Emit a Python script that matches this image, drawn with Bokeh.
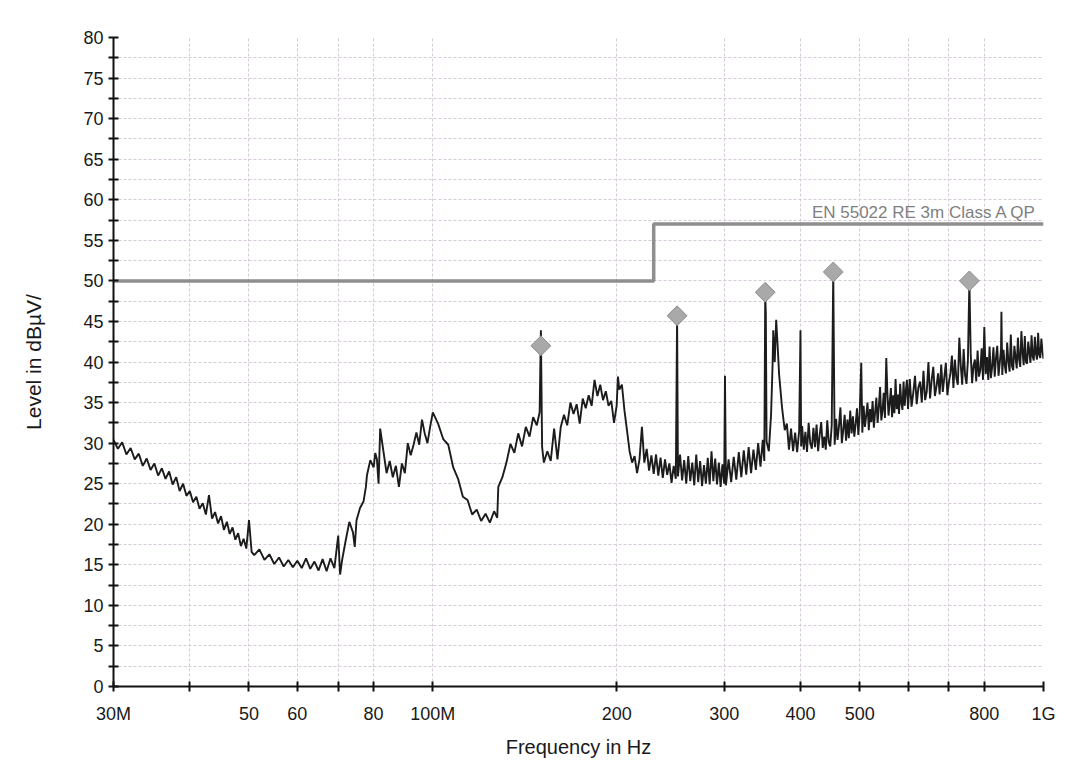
import numpy as np
from bokeh.plotting import figure
from bokeh.models import Range1d, FixedTicker, Label
from bokeh.embed import file_html
from bokeh.resources import INLINE

# ---------------- data ----------------
x_ticks = [30, 40, 50, 60, 70, 80, 100, 200, 300, 400, 500, 600, 700, 800, 1000]
x_tick_labels = ["30M", "", "50", "60", "", "80", "100M", "200", "300", "400", "500", "", "", "800", "1G"]
y_ticks = [0, 5, 10, 15, 20, 25, 30, 35, 40, 45, 50, 55, 60, 65, 70, 75, 80]
y_minor_ticks = [2.5, 7.5, 12.5, 17.5, 22.5, 27.5, 32.5, 37.5, 42.5, 47.5, 52.5, 57.5, 62.5, 67.5, 72.5, 77.5]

limit_freq = [30, 230, 230, 1000]
limit_level = [50, 50, 57, 57]
limit_name = "EN 55022 RE 3m Class A QP"

marker_freq = [150.3, 251.2, 350.2, 452.6, 756.2]
marker_level = [42.0, 45.7, 48.6, 51.1, 50.0]

trace_freq = [
    # 30-50 MHz
    30.0, 30.5, 31.0, 31.5, 32.0, 32.5, 33.0, 33.5, 34.0, 34.5, 35.0, 35.5, 36.0, 36.5, 37.0, 37.5,
    38.0, 38.5, 39.0, 39.5, 40.0, 40.5, 41.0, 41.5, 42.0, 42.5, 43.0, 43.5, 44.0, 44.5, 45.0, 45.5,
    46.0, 46.5, 47.0, 47.5, 48.0, 48.5, 49.0, 49.5, 50.0, 50.5,
    # 50-100 MHz
    51, 52, 53, 54, 55, 56, 57, 58, 59, 60, 61, 62, 63, 64, 65, 66, 67, 68, 69, 70, 70.5, 71, 72, 73,
    74, 74.5, 75, 76, 77, 77.7, 78, 79, 80, 80.5, 81, 81.5, 82, 83, 84, 85, 86, 87, 88, 89, 90, 91,
    92, 93, 94, 95, 96, 97, 98, 99, 100,
    # 100-200 MHz
    102, 104, 106, 108, 110, 112, 114, 116, 118, 120, 122, 124, 126, 127.5, 128, 130, 132, 134, 136,
    138, 140, 142, 144, 146, 148, 149.6, 150.3, 151, 152, 154, 156, 158, 160, 162, 164, 166, 168, 170,
    172, 174, 176, 178, 180, 182, 184, 186, 188, 190, 192, 194, 196, 198, 200, 201,
    # 200-300 MHz
    202, 204, 206, 208, 210, 212, 214, 216, 218, 220, 222, 224, 226, 228, 230, 232, 234, 236, 238, 240,
    242, 244, 246, 248, 250, 251.2, 252, 254, 256, 258, 260, 262, 264, 266, 268, 270, 272, 274, 276,
    278, 280, 282, 284, 286, 288, 290, 292, 294, 296, 298, 300, 300.9, 302,
    # 300-400 MHz
    305, 308, 311, 314, 317, 320, 323, 326, 329, 332, 335, 338, 341, 344, 347, 349, 350.2, 351, 352,
    355, 358, 360, 361, 363, 365, 367, 369, 371, 373, 375, 377, 380, 383, 386, 389, 392, 395, 398,
    400, 401,
    # 400-600 MHz
    402.5, 405, 407.5, 410, 412.5, 415, 417.5, 420, 422.5, 425, 427.5, 430, 432.5, 435, 437.5, 440,
    442.5, 445, 447.5, 450, 452.6,
    455, 457.5, 460, 462.5, 465, 467.5, 470, 472.5, 475, 477.5, 480, 482.5, 485, 487.5, 490, 492.5,
    495, 497.5, 500, 503,
    505, 507.5, 510, 512.5, 515, 517.5, 520, 522.5, 525, 527.5, 530, 532.5, 535, 537.5, 540, 542.5,
    545, 547.5, 550, 552.8,
    555, 557.5, 560, 562.5, 565, 567.5, 570, 572.5, 575, 577.5, 580, 582.5, 585, 587.5, 590, 592.5,
    595, 597.5, 600,
    # 600-1000 MHz
    604, 608, 612, 616, 620, 624, 628, 632, 636, 640, 644, 648, 652, 656, 660, 664, 668, 672, 676, 680,
    684, 688, 692, 696, 700,
    704, 708, 712, 716, 720, 724, 728, 732, 736, 740, 744, 748, 752, 756.2,
    760, 764, 768, 772, 776, 780, 784, 788, 792, 796, 800,
    804, 808, 812, 816, 820, 824, 828, 832, 836, 840, 844, 848, 852, 853.3,
    856, 860, 864, 868, 872, 876, 880, 884, 888, 892, 896, 900, 904, 908, 912, 916, 920, 924, 928, 932,
    936, 940, 944, 948, 952, 956, 960, 964, 968, 972, 976, 980, 984, 988, 992, 996, 1000,
]

trace_level = [
    # 30-50 MHz
    30.4, 29.3, 30.1, 28.6, 29.4, 28.0, 28.7, 27.2, 28.1, 26.7, 27.5, 26.0, 26.9, 25.6, 26.5, 24.9,
    25.8, 24.1, 25.0, 23.5, 24.1, 22.7, 23.4, 21.9, 22.6, 21.2, 23.6, 20.7, 21.5, 20.1, 21.0, 19.3,
    20.3, 18.8, 19.6, 18.1, 18.9, 17.3, 18.2, 17.0, 20.5, 16.6,
    # 50-100 MHz
    16.2, 16.9, 15.6, 16.3, 15.1, 15.9, 14.8, 15.6, 14.7, 15.5, 14.6, 15.8, 14.5, 15.4, 14.3, 15.7,
    14.2, 15.8, 14.6, 18.6, 13.8, 15.5, 18.0, 20.3, 19.0, 17.2, 20.5, 22.0, 22.8, 24.6, 26.0, 27.9,
    27.0, 28.8, 28.0, 25.0, 31.8, 29.0, 26.3, 27.8, 25.8, 27.2, 24.6, 27.5, 26.3, 30.0, 28.5, 29.8,
    31.3, 29.8, 32.9, 31.2, 30.0, 32.0, 33.8,
    # 100-200 MHz
    32.4, 30.5, 29.8, 27.0, 25.6, 23.4, 23.0, 21.2, 21.8, 20.4, 21.3, 20.2, 21.6, 20.8, 24.6, 25.8,
    27.6, 29.9, 28.8, 31.2, 29.6, 32.0, 30.8, 33.2, 32.2, 33.8, 43.9, 29.5, 27.6, 29.0, 27.8, 31.8,
    28.0, 32.0, 33.5, 32.2, 35.0, 33.6, 34.8, 32.4, 35.5, 34.3, 35.9, 34.6, 37.8, 35.8, 37.2, 35.3,
    36.4, 34.6, 35.2, 32.5, 34.6, 38.2,
    # 200-300 MHz
    36.6, 37.2, 34.0, 31.5, 29.0, 27.6, 28.4, 26.3, 28.0, 32.0, 27.6, 29.3, 26.6, 28.5, 26.2, 28.6,
    26.0, 28.2, 25.7, 28.0, 26.1, 27.5, 25.1, 27.2, 25.6, 45.8, 25.9, 28.6, 25.4, 27.9, 25.0, 28.4,
    25.3, 27.6, 24.8, 28.6, 25.2, 27.8, 24.7, 27.3, 25.0, 28.2, 24.9, 29.0, 25.3, 28.1, 24.9, 27.6,
    24.6, 27.4, 25.0, 38.3, 24.8,
    # 300-400 MHz
    28.0, 25.2, 28.3, 25.5, 28.9, 25.8, 29.1, 26.1, 29.5, 26.3, 29.2, 26.7, 30.0, 27.1, 30.4, 27.8,
    48.4, 46.0, 30.2, 29.0, 33.5, 39.5, 43.9, 40.0, 45.2, 42.0, 38.5, 36.5, 34.5, 33.0, 31.6, 32.4,
    29.2, 31.8, 29.0, 31.3, 28.9, 31.5, 43.9, 29.6,
    # 400-600 MHz
    32.1, 29.2, 31.4, 28.9, 32.5, 30.0, 29.3, 31.9, 29.5, 32.3, 29.0, 31.0, 32.6, 29.4, 30.8, 29.2,
    32.8, 30.1, 29.6, 32.2, 51.0,
    29.8, 33.0, 30.4, 32.1, 34.4, 30.0, 31.6, 33.5, 30.3, 32.9, 30.6, 34.0, 31.2, 33.3, 30.8, 32.4,
    34.3, 31.0, 33.6, 39.9,
    31.3, 34.6, 32.0, 33.4, 35.0, 31.6, 34.2, 32.6, 35.2, 31.9, 33.8, 35.6, 32.5, 34.5, 36.9, 32.8,
    34.0, 36.2, 33.1, 40.5,
    36.3, 33.4, 35.0, 36.8, 33.2, 35.9, 33.7, 37.9, 34.2, 36.0, 33.6, 37.3, 35.0, 34.1, 37.6, 34.6,
    36.4, 37.8, 34.2,
    # 600-1000 MHz
    37.9, 34.5, 36.2, 38.3, 34.8, 36.9, 37.6, 35.0, 38.9, 35.3, 36.4, 40.0, 35.5, 37.8, 39.4, 35.8,
    37.0, 38.6, 36.0, 39.7, 36.3, 38.1, 39.9, 35.9, 37.5,
    38.6, 40.8, 36.8, 40.3, 38.0, 37.2, 43.0, 39.6, 37.2, 41.6, 38.4, 37.3, 40.2, 50.0,
    41.0, 37.4, 39.5, 40.3, 37.6, 41.4, 38.2, 39.0, 41.7, 37.8, 44.3,
    38.5, 40.6, 37.8, 41.9, 38.0, 39.4, 41.8, 38.2, 40.5, 42.0, 38.3, 39.9, 41.6, 46.2,
    38.4, 41.5, 39.6, 38.6, 42.4, 40.1, 38.8, 43.4, 39.5, 39.0, 42.0, 40.6, 39.2, 43.0, 40.4, 39.4,
    43.8, 41.2, 39.6, 43.2, 40.0, 39.8, 42.5, 41.3, 39.9, 43.3, 40.7, 40.2, 43.1, 41.0, 40.3, 43.6,
    40.9, 40.5, 42.9, 41.4, 40.4,
]

assert len(trace_freq) == len(trace_level), (len(trace_freq), len(trace_level))

# ---------------- figure ----------------
FONT = "Liberation Sans"

p = figure(
    width=1070, height=760,
    x_axis_type="log",
    x_range=Range1d(30, 1000), y_range=Range1d(0, 80),
    output_backend="svg", toolbar_location=None,
    min_border_left=113, min_border_right=27, min_border_top=37, min_border_bottom=73,
    background_fill_color="white", border_fill_color="white",
)
p.outline_line_color = None

# grids
p.xgrid.ticker = FixedTicker(ticks=x_ticks[1:])
p.ygrid.ticker = FixedTicker(ticks=sorted(y_ticks + y_minor_ticks))
for g in (p.xgrid, p.ygrid):
    g.grid_line_color = "#d6cad8"
    g.grid_line_dash = "3 2"
    g.grid_line_width = 1

# axes
xa = p.xaxis[0]
xa.ticker = FixedTicker(ticks=x_ticks, minor_ticks=[])
xa.major_label_overrides = {t: s for t, s in zip(x_ticks, x_tick_labels)}
xa.axis_label = "Frequency in Hz"
ya = p.yaxis[0]
ya.ticker = FixedTicker(ticks=y_ticks, minor_ticks=y_minor_ticks)
ya.axis_label = "Level in dBµV/"

for ax in (xa, ya):
    ax.axis_line_color = "#111111"
    ax.axis_line_width = 2
    ax.major_tick_line_color = "#111111"
    ax.major_tick_line_width = 2
    ax.major_tick_in = 5
    ax.major_tick_out = 5
    ax.minor_tick_line_color = "#111111"
    ax.minor_tick_line_width = 2
    ax.minor_tick_in = 5
    ax.minor_tick_out = 5
    ax.major_label_text_font = FONT
    ax.major_label_text_font_size = "18px"
    ax.major_label_text_color = "#1a1a1a"
    ax.axis_label_text_font = FONT
    ax.axis_label_text_font_style = "normal"
    ax.axis_label_text_color = "#1a1a1a"

xa.major_label_standoff = 12
xa.axis_label_text_font_size = "20px"
xa.axis_label_standoff = 9
ya.major_label_standoff = 5
ya.axis_label_text_font_size = "21px"
ya.axis_label_standoff = 35

# limit line
p.line(limit_freq, limit_level, line_color="#8e8e8e", line_width=3.5)
p.add_layout(Label(x=975, y=57, text=limit_name, text_align="right", text_baseline="bottom",
                   y_offset=2, text_font=FONT, text_font_size="17px", text_color="#7f7f7f"))

# measured trace
p.line(trace_freq, trace_level, line_color="#1c1c1c", line_width=1.9)

# QP markers
p.scatter(marker_freq, marker_level, marker="square", angle=np.pi / 4, size=14,
          fill_color="#a9a9a9", line_color="#8c8c8c", line_width=1)

open("out.html", "w").write(file_html(p, INLINE))
